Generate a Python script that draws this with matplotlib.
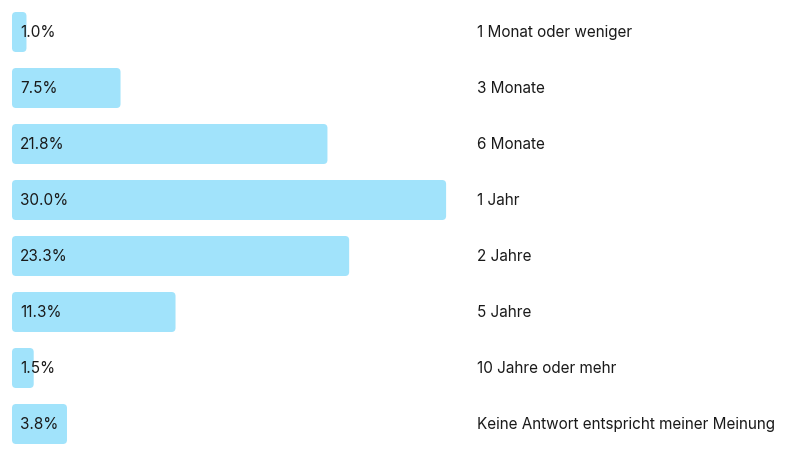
import matplotlib.pyplot as plt
from matplotlib.patches import FancyBboxPatch

categories = ["1 Monat oder weniger", "3 Monate", "6 Monate", "1 Jahr",
              "2 Jahre", "5 Jahre", "10 Jahre oder mehr",
              "Keine Antwort entspricht meiner Meinung"]
values = [1.0, 7.5, 21.8, 30.0, 23.3, 11.3, 1.5, 3.8]

plt.rcParams['font.family'] = ['Inter', 'DejaVu Sans']

W, H = 800, 458
fig = plt.figure(figsize=(W / 100, H / 100), dpi=100)
ax = fig.add_axes([0, 0, 1, 1])
ax.axis('off')

px_per_pct = 14.47
x0 = 12
row_px = 56
top_px = 32
ax.set_xlim(-x0 / px_per_pct, (W - x0) / px_per_pct)
ax.set_ylim((H - top_px) / row_px, -top_px / row_px)

bar_h = 40 / row_px
aspect = (1 / row_px) / (1 / px_per_pct)
for i, (cat, v) in enumerate(zip(categories, values)):
    patch = FancyBboxPatch((0, i - bar_h / 2), v, bar_h,
                           boxstyle="round,pad=0,rounding_size=0.28",
                           mutation_aspect=aspect,
                           facecolor='#a1e3fb', edgecolor='none')
    ax.add_patch(patch)
    ax.text(8 / px_per_pct, i + 0.01, f"{v:.1f}%", va='center', ha='left',
            fontsize=11, color='#1a1a1a')
    ax.text(477 / W, i + 0.01, cat, transform=ax.get_yaxis_transform(),
            va='center', ha='left', fontsize=11, color='#1a1a1a')

fig.savefig("out.png", dpi=100)
